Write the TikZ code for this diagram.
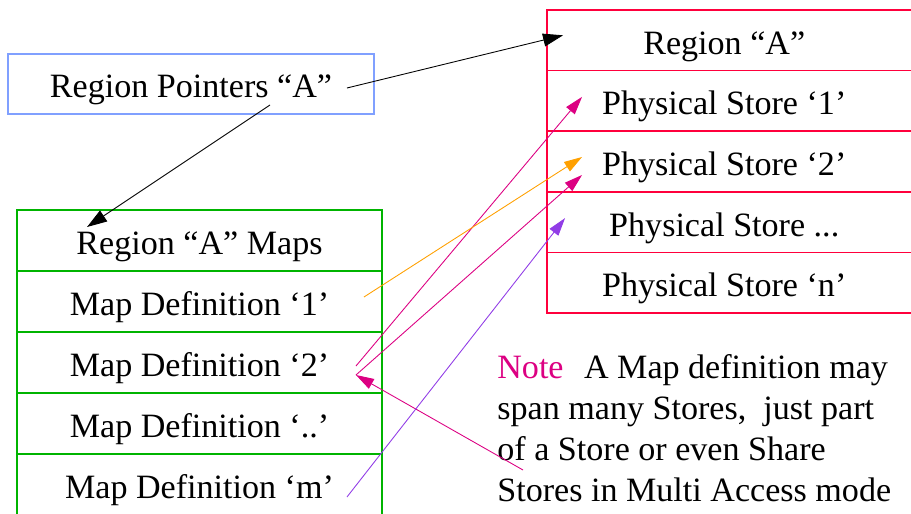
\documentclass[tikz,border=0pt]{standalone}
\usepackage{fontspec}
\setmainfont{Liberation Serif}
\usetikzlibrary{arrows.meta}
\definecolor{ptrblue}{RGB}{128,160,255}
\definecolor{storered}{RGB}{255,0,60}
\definecolor{mapgreen}{RGB}{0,180,0}
\definecolor{linkmag}{RGB}{220,0,130}
\definecolor{linkorange}{RGB}{255,160,0}
\definecolor{linkpurple}{RGB}{145,60,230}
\begin{document}
\begin{tikzpicture}[x=0.02cm, y=-0.02cm, font=\fontsize{19.4}{23.3}\selectfont]
        \tikzstyle{row} = [draw, inner sep=0pt, outer sep=0pt, line width=0.8pt, text height=15.9pt, text depth=0pt]
        \tikzstyle{store} = [row, draw=storered, minimum width=7.3cm, minimum height=1.212cm]
        \tikzstyle{map} = [row, draw=mapgreen, minimum width=7.3cm, minimum height=1.22cm]
        \tikzstyle{link} = [-{Triangle[length=3.6mm, width=2.2mm]}, line width=0.5pt]
        \useasboundingbox (0,0) rectangle (911,513);

        \node[row, draw=ptrblue, minimum width=7.32cm, minimum height=1.2cm] (ptr) at (191,84) {Region Pointers “A”};

        \node[store] (rgn) at (729.5,40.3) {Region “A”\kern6pt};
        \node[store] (ps1) at (729.5,100.9) {Physical Store ‘1’\kern6pt};
        \node[store] (ps2) at (729.5,161.5) {Physical Store ‘2’\kern6pt};
        \node[store] (psx) at (729.5,222.1) {Physical Store ...\kern6pt};
        \node[store] (psn) at (729.5,282.7) {Physical Store ‘n’\kern6pt};

        \node[map] (maps) at (199.5,240.5) {Region “A” Maps};
        \node[map] (md1) at (199.5,301.5) {Map Definition ‘1’};
        \node[map] (md2) at (199.5,362.5) {Map Definition ‘2’};
        \node[map] (mdx) at (199.5,423.5) {Map Definition ‘..’};
        \node[map] (mdm) at (199.5,484.5) {Map Definition ‘m’};

        \node[anchor=north west, inner sep=0pt, align=left] (note) at (497,354)
                {\textcolor{linkmag}{Note}\hspace{0.6em}A Map definition may\\
                 span many Stores,\ \ just part\\
                 of a Store or even Share\\
                 Stores in Multi Access mode};

        % free ends of the links
        \coordinate (ptrout) at ([shift={(-27,4)}]ptr.east);
        \coordinate (ptrdown) at ([shift={(79,21)}]ptr.center);
        \coordinate (rgnin) at ([shift={(16,-5)}]rgn.west);
        \coordinate (mapsin) at ([shift={(70,-13.5)}]maps.west);
        \coordinate (ps1in) at ([shift={(35,-4)}]ps1.west);
        \coordinate (ps2a) at ([shift={(35,-4.5)}]ps2.west);
        \coordinate (ps2b) at ([shift={(35,13.5)}]ps2.west);
        \coordinate (psxin) at ([shift={(18,-4)}]psx.west);
        \coordinate (md1out) at ([shift={(-18,-4.5)}]md1.east);
        \coordinate (md2a) at ([shift={(-26,3.5)}]md2.east);
        \coordinate (md2b) at ([shift={(-26,12.5)}]md2.east);
        \coordinate (mdmout) at ([shift={(-35,12.5)}]mdm.east);
        \coordinate (noteout) at ([shift={(26,116)}]note.north west);

        \path[link, -{Triangle[length=4mm, width=2.6mm]}]
                (ptrout) edge (rgnin)
                (ptrdown) edge (mapsin);
        \path[link, linkmag]
                (md2a) edge (ps1in)
                (md2b) edge (ps2b)
                (noteout) edge (md2b);
        \path[link, linkorange] (md1out) edge (ps2a);
        \path[link, linkpurple] (mdmout) edge (psxin);
\end{tikzpicture}
\end{document}
